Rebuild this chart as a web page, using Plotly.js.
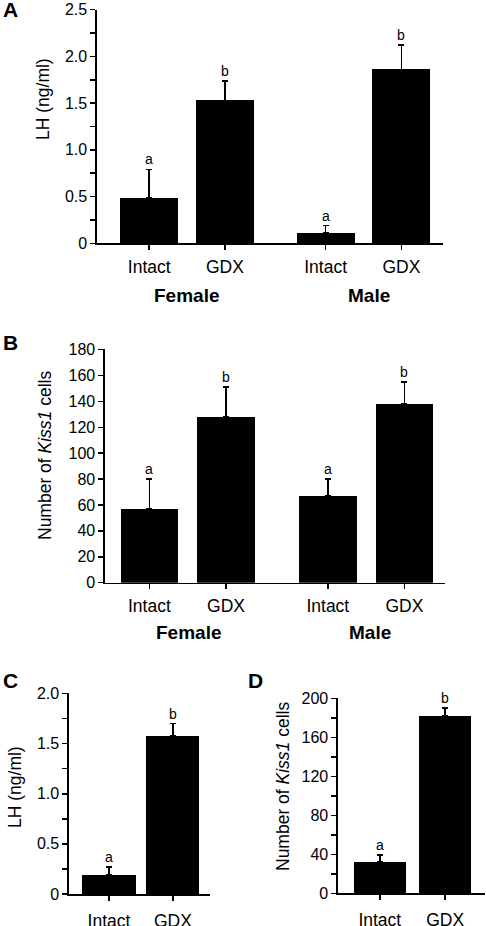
<!DOCTYPE html>
<html>
<head>
<meta charset="utf-8">
<script src="https://cdn.plot.ly/plotly-3.0.1.min.js"></script>
<style>html,body{margin:0;padding:0;background:#fff;}#chart{width:486px;height:926px;}</style>
</head>
<body>
<div id="chart"></div>
<script>
// ---- data ----
const categories4 = ['Intact', 'GDX', 'Intact', 'GDX'];
const groupNames = ['Female', 'Male'];
const categories2 = ['Intact', 'GDX'];

const lhAdult = [0.49, 1.53, 0.11, 1.86];
const lhAdultErr = [0.30, 0.21, 0.08, 0.26];
const lhAdultLetters = ['a', 'b', 'a', 'b'];

const kissAdult = [57, 128, 67, 138];
const kissAdultErr = [23, 23, 13, 17];
const kissAdultLetters = ['a', 'b', 'a', 'b'];

const lhMale = [0.19, 1.58];
const lhMaleErr = [0.08, 0.12];
const lhMaleLetters = ['a', 'b'];

const kissMale = [32.5, 182.5];
const kissMaleErr = [7, 8];
const kissMaleLetters = ['a', 'b'];

const yTicksA = [0, 0.5, 1, 1.5, 2, 2.5];
const yTickTextA = ['0', '0.5', '1.0', '1.5', '2.0', '2.5'];
const yTicksC = [0, 0.5, 1, 1.5, 2];
const yTickTextC = ['0', '0.5', '1.0', '1.5', '2.0'];

// ---- layout helpers ----
const FONT = 'Liberation Sans, Arial, Helvetica, sans-serif';
const pos4 = [0, 1, 2.33, 3.33];
const pos2 = [0, 1];

function bar(x, y, err, width, xa, ya) {
  return {
    type: 'bar', x: x, y: y, width: width, xaxis: xa, yaxis: ya,
    marker: {color: '#000', line: {width: 0}},
    error_y: {type: 'data', symmetric: false, array: err, arrayminus: err.map(() => 0),
              color: '#000', thickness: 1.6, width: 3},
    hoverinfo: 'skip', showlegend: false
  };
}

function xAxis(domain, anchor, range, vals, text, standoff) {
  return {
    domain: domain, anchor: anchor, range: range, fixedrange: true,
    showline: true, linecolor: '#000', linewidth: 1.6, mirror: false,
    ticks: 'outside', ticklen: 5, tickwidth: 1.5, tickcolor: '#000',
    tickmode: 'array', tickvals: vals, ticktext: text,
    ticklabelstandoff: standoff, ticklabeloverflow: 'allow',
    tickfont: {family: FONT, size: 17.5, color: '#000'},
    showgrid: false, zeroline: false
  };
}

function yAxis(domain, anchor, range, extra) {
  return Object.assign({
    domain: domain, anchor: anchor, range: range, fixedrange: true,
    showline: true, linecolor: '#000', linewidth: 1.6,
    ticks: 'outside', ticklen: 5, tickwidth: 1.5, tickcolor: '#000',
    ticklabeloverflow: 'allow',
    tickfont: {family: FONT, size: 16, color: '#000'},
    showgrid: false, zeroline: false
  }, extra);
}

function letterAnnots(xs, vals, errs, letters, xref, yref) {
  return letters.map((t, i) => ({
    x: xs[i], y: vals[i] + errs[i], xref: xref, yref: yref, text: t,
    showarrow: false, yanchor: 'bottom', xanchor: 'center',
    font: {family: FONT, size: 14, color: '#000'}
  }));
}

function paperText(text, px, py, size, opts) {
  return Object.assign({
    x: px / 486, y: 1 - py / 926, xref: 'paper', yref: 'paper', text: text,
    showarrow: false, xanchor: 'center', yanchor: 'middle',
    font: {family: FONT, size: size, color: '#000'}
  }, opts || {});
}

const data = [
  bar(pos4, lhAdult, lhAdultErr, 0.766, 'x', 'y'),
  bar(pos4, kissAdult, kissAdultErr, 0.75, 'x2', 'y2'),
  bar(pos2, lhMale, lhMaleErr, 0.83, 'x3', 'y3'),
  bar(pos2, kissMale, kissMaleErr, 0.80, 'x4', 'y4')
];

const annotations = []
  .concat(letterAnnots(pos4, lhAdult, lhAdultErr, lhAdultLetters, 'x', 'y'))
  .concat(letterAnnots(pos4, kissAdult, kissAdultErr, kissAdultLetters, 'x2', 'y2'))
  .concat(letterAnnots(pos2, lhMale, lhMaleErr, lhMaleLetters, 'x3', 'y3'))
  .concat(letterAnnots(pos2, kissMale, kissMaleErr, kissMaleLetters, 'x4', 'y4'))
  .concat([
    // panel letters
    paperText('<b>A</b>', 10, 10, 21),
    paperText('<b>B</b>', 10, 342, 21),
    paperText('<b>C</b>', 10, 680, 21),
    paperText('<b>D</b>', 255, 680, 21),
    // group labels
    paperText('<b>' + groupNames[0] + '</b>', 186, 295, 19),
    paperText('<b>' + groupNames[1] + '</b>', 369, 295, 19),
    paperText('<b>' + groupNames[0] + '</b>', 188, 632, 19),
    paperText('<b>' + groupNames[1] + '</b>', 370, 632, 19),
    // y titles
    paperText('LH (ng/ml)', 43, 99, 17.5, {textangle: -90}),
    paperText('Number of <i>Kiss1</i> cells', 45, 456, 17.5, {textangle: -90}),
    paperText('LH (ng/ml)', 15, 787, 17.5, {textangle: -90}),
    paperText('Number of <i>Kiss1</i> cells', 283, 787, 17.5, {textangle: -90})
  ]);

const layout = {
  width: 486, height: 926,
  margin: {l: 0, r: 0, t: 0, b: 0},
  paper_bgcolor: '#fff', plot_bgcolor: '#fff',
  showlegend: false, bargap: 0,
  font: {family: FONT, color: '#000'},
  xaxis: xAxis([97 / 486, 443 / 486], 'y', [-0.69, 3.88], pos4, categories4, 2),
  yaxis: yAxis([1 - 243.3 / 926, 1 - 9.5 / 926], 'x', [0, 2.502],
    {tickmode: 'array', tickvals: yTicksA, ticktext: yTickTextA,
     minor: {dtick: 0.25, tick0: 0, ticks: 'outside', ticklen: 5, tickwidth: 1.5, tickcolor: '#000', showgrid: false}}),
  xaxis2: xAxis([105 / 486, 445 / 486], 'y2', [-0.58, 3.86], pos4, categories4, 2),
  yaxis2: yAxis([1 - 582.7 / 926, 1 - 349.3 / 926], 'x2', [0, 180.2], {tickmode: 'linear', tick0: 0, dtick: 20}),
  xaxis3: xAxis([69 / 486, 210 / 486], 'y3', [-0.625, 1.58], pos2, categories2, 5),
  yaxis3: yAxis([1 - 894 / 926, 1 - 693.3 / 926], 'x3', [0, 2.002],
    {tickmode: 'array', tickvals: yTicksC, ticktext: yTickTextC,
     minor: {dtick: 0.25, tick0: 0, ticks: 'outside', ticklen: 5, tickwidth: 1.5, tickcolor: '#000', showgrid: false}}),
  xaxis4: xAxis([338 / 486, 485 / 486], 'y4', [-0.64, 1.61], pos2, categories2, 5),
  yaxis4: yAxis([1 - 893.3 / 926, 1 - 698.3 / 926], 'x4', [0, 200.2],
    {tickmode: 'linear', tick0: 0, dtick: 40,
     minor: {dtick: 20, tick0: 0, ticks: 'outside', ticklen: 5, tickwidth: 1.5, tickcolor: '#000', showgrid: false}}),
  annotations: annotations
};

Plotly.newPlot('chart', data, layout, {displayModeBar: false, staticPlot: true});
</script>
</body>
</html>
